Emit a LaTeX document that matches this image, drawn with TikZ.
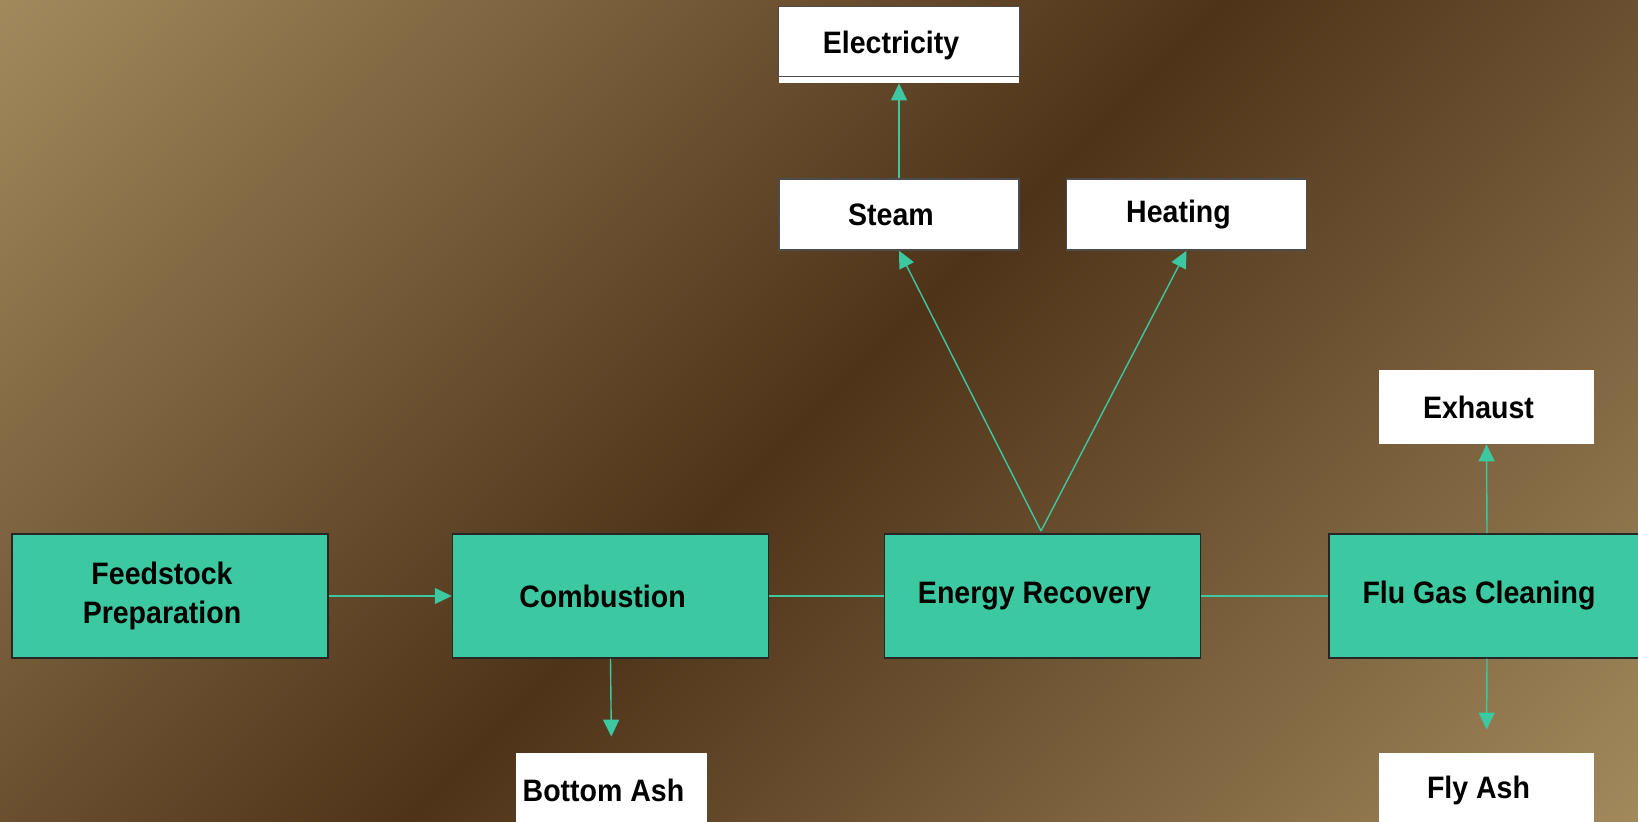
\documentclass[tikz,border=0pt]{standalone}
\usepackage{fontspec}
\setmainfont{Liberation Sans}[FakeStretch=0.92]
\usetikzlibrary{arrows.meta}

\definecolor{procgreen}{RGB}{60,200,160}
\definecolor{tanlight}{RGB}{162,137,92}
\definecolor{umber}{RGB}{78,51,25}

\begin{document}
\begin{tikzpicture}[x=0.5pt,y=-0.5pt,
            font=\bfseries\fontsize{15.5pt}{19.5pt}\selectfont,
            nudge/.style={execute at end node={\hspace*{8pt}}},
            process/.style={nudge,draw=black!85,line width=0.75pt,fill=procgreen,
                minimum width=158pt,minimum height=62pt,inner sep=0pt,align=center},
            output/.style={nudge,fill=white,inner sep=0pt,minimum height=37pt},
            framed/.style={output,draw=black!70,line width=0.75pt,
                minimum width=120pt,minimum height=35.5pt},
            flow/.style={draw=procgreen,line width=0.7pt},
            arrowed/.style={flow,-{Triangle[length=8.5pt,width=8pt]}},
            ]

    \useasboundingbox (0,0) rectangle (1638,822);
    \clip (0,0) rectangle (1638,822);
    \shade[top color=tanlight,bottom color=tanlight,middle color=umber,shading angle=45]
        (-51,-459) rectangle (1689,1281);

    % main line
    \node[process] (feed) at (170,596) {Feedstock\\Preparation};
    \node[process] (comb) at (610.5,596) {Combustion};
    \node[process] (recov) at (1042.5,596) {Energy Recovery};
    \node[process] (flu) at (1487,596) {Flu Gas Cleaning};

    % products
    \node[framed] (steam) at (899,214.5) {Steam};
    \node[framed] (heat) at (1186.5,214.5) {Heating};
    \node[output,minimum width=120pt,minimum height=38pt] (elec) at (899,45) {Electricity};
    \draw[black!70,line width=0.75pt] (elec.north west) rectangle ([yshift=3.5pt]elec.south east);
    \node[output,minimum width=107.5pt] (exhaust) at (1486.5,407) {Exhaust};
    \node[output,minimum width=107.5pt] (flyash) at (1486.5,790) {Fly Ash};
    \node[output,minimum width=95.5pt] (bottom) at (611.5,790) {Bottom Ash};
    \coordinate (split) at (1041,531);

    \draw[arrowed] (feed) -- (comb);
    \draw[flow] (comb) -- (recov);
    \draw[flow] (recov) -- (flu);
    \draw[arrowed,shorten >=8pt] (comb.south) -- (bottom.north);
    \draw[arrowed] (split) -- (steam.south);
    \draw[arrowed] (split) -- (heat.south);
    \draw[arrowed] (steam) -- (elec);
    \draw[arrowed] (flu.north) -- (exhaust.south);
    \draw[arrowed,shorten >=11.5pt] (flu.south) -- (flyash.north);
\end{tikzpicture}
\end{document}
